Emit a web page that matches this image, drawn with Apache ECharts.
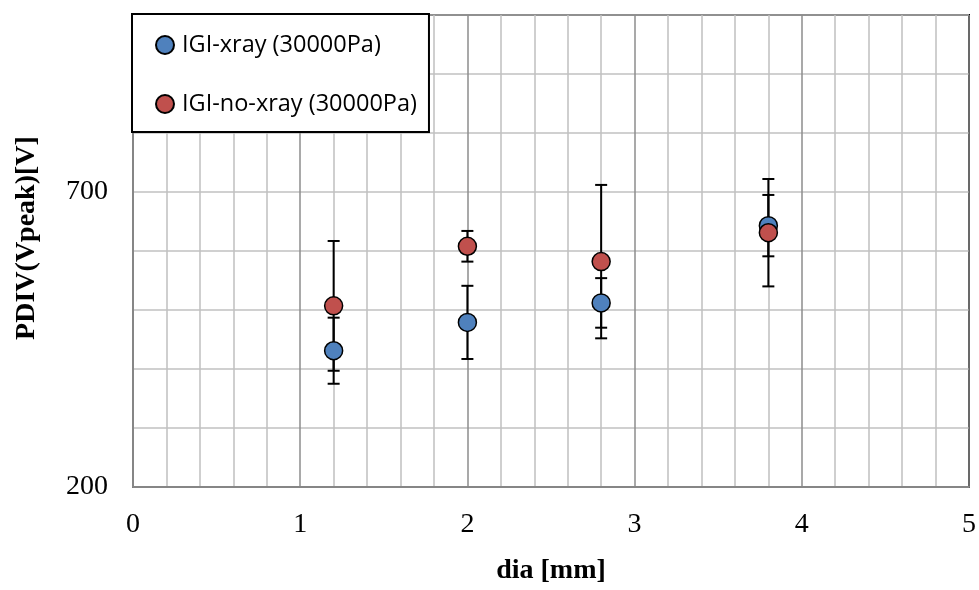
<!DOCTYPE html>
<html>
<head>
<meta charset="utf-8">
<script src="https://cdn.jsdelivr.net/npm/echarts@6/dist/echarts.min.js"></script>
<style>html,body{margin:0;padding:0;background:#fff}#c{width:979px;height:590px}</style>
</head>
<body>
<div id="c"></div>
<script>
const dia = [1.2, 2.0, 2.8, 3.8];
const xrayPDIV = [431, 479, 512, 643];
const xrayErr = [56, 62, 42, 52];
const noXrayPDIV = [507, 608, 582, 631];
const noXrayErr = [110, 26, 130, 91];
const seriesNames = ['IGI-xray (30000Pa)', 'IGI-no-xray (30000Pa)'];
const yTickLabels = [200, 700];
const xTickLabels = [0, 1, 2, 3, 4, 5];

const errData = [];
dia.forEach((d, i) => {
  errData.push([d, xrayPDIV[i] - xrayErr[i], xrayPDIV[i] + xrayErr[i]]);
  errData.push([d, noXrayPDIV[i] - noXrayErr[i], noXrayPDIV[i] + noXrayErr[i]]);
});

const chart = echarts.init(document.getElementById('c'));
const serif = '"Liberation Serif", "Times New Roman", serif';
chart.setOption({
  animation: false,
  backgroundColor: '#fff',
  grid: { left: 133, right: 10, top: 15, bottom: 97, show: true, borderColor: '#000', borderWidth: 2, backgroundColor: 'transparent' },
  legend: {
    left: 132, top: 14, orient: 'vertical',
    backgroundColor: '#fff', borderColor: '#000', borderWidth: 2,
    padding: [19, 12, 16, 23], itemGap: 35,
    itemWidth: 18, itemHeight: 18, icon: 'circle',
    textStyle: { fontFamily: '"Open Sans", sans-serif', fontSize: 23.5, color: '#000', padding: [0,0,0,3] },
    data: seriesNames
  },
  xAxis: {
    type: 'value', min: 0, max: 5, interval: 1,
    name: 'dia [mm]', nameLocation: 'middle', nameGap: 70,
    nameTextStyle: { fontFamily: serif, fontSize: 28, fontWeight: 'bold', color: '#000' },
    axisLine: { show: true, onZero: false, lineStyle: { color: '#868686', width: 2 } },
    axisTick: { show: false },
    axisLabel: { fontFamily: serif, fontSize: 28, color: '#000', margin: 24,
      formatter: v => xTickLabels.includes(v) ? String(v) : '' },
    splitLine: { show: true, lineStyle: { color: '#8c8c8c', width: 1.5 } },
    minorTick: { show: false, splitNumber: 5 },
    minorSplitLine: { show: true, lineStyle: { color: '#c0c0c0', width: 1.5 } }
  },
  yAxis: {
    type: 'value', min: 200, max: 1000, interval: 100,
    name: 'PDIV(Vpeak)[V]', nameLocation: 'middle', nameGap: 92,
    nameTextStyle: { fontFamily: serif, fontSize: 28, fontWeight: 'bold', color: '#000', padding: [0, 0, 0, 26] },
    axisLine: { show: true, onZero: false, lineStyle: { color: '#868686', width: 2 } },
    axisTick: { show: false },
    axisLabel: { fontFamily: serif, fontSize: 28, color: '#000', margin: 25,
      formatter: v => yTickLabels.includes(v) ? String(v) : '' },
    splitLine: { show: true, lineStyle: { color: '#c0c0c0', width: 1.5 } }
  },
  series: [
    {
      type: 'custom', name: 'err', z: 2, silent: true,
      data: errData,
      renderItem: function (params, api) {
        const x = api.value(0);
        const lo = api.coord([x, api.value(1)]);
        const hi = api.coord([x, api.value(2)]);
        const hw = 6;
        const st = { stroke: '#000', lineWidth: 2 };
        return { type: 'group', children: [
          { type: 'line', shape: { x1: lo[0], y1: lo[1], x2: hi[0], y2: hi[1] }, style: st },
          { type: 'line', shape: { x1: lo[0] - hw, y1: lo[1], x2: lo[0] + hw, y2: lo[1] }, style: st },
          { type: 'line', shape: { x1: hi[0] - hw, y1: hi[1], x2: hi[0] + hw, y2: hi[1] }, style: st }
        ]};
      }
    },
    {
      type: 'scatter', name: seriesNames[0], z: 3, symbol: 'circle', symbolSize: 18,
      itemStyle: { color: '#4f81bd', borderColor: '#000', borderWidth: 1.5, opacity: 1 },
      data: dia.map((d, i) => [d, xrayPDIV[i]])
    },
    {
      type: 'scatter', name: seriesNames[1], z: 4, symbol: 'circle', symbolSize: 18,
      itemStyle: { color: '#c0504d', borderColor: '#000', borderWidth: 1.5, opacity: 1 },
      data: dia.map((d, i) => [d, noXrayPDIV[i]])
    }
  ]
});
</script>
</body>
</html>
